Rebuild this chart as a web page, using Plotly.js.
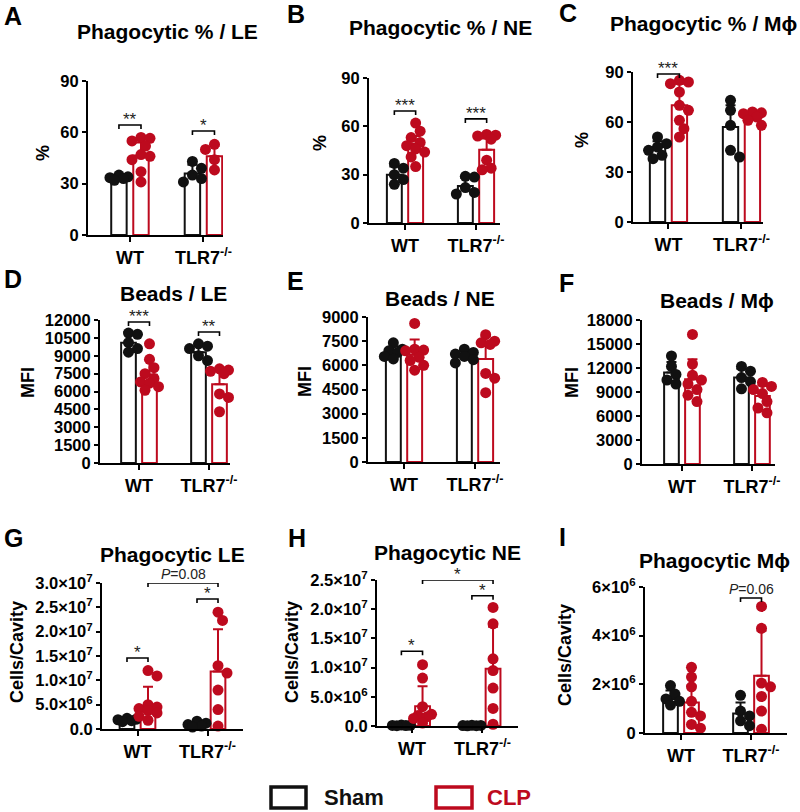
<!DOCTYPE html>
<html><head><meta charset="utf-8">
<script src="https://cdn.plot.ly/plotly-3.0.1.min.js"></script>
<style>html,body{margin:0;padding:0;background:#fff;}#chart{width:800px;height:812px;}</style>
</head><body><div id="chart"></div>
<script>
// ---------- DATA ----------
const groups = ['WT', 'TLR7<sup>-/-</sup>'];
const conditions = ['Sham', 'CLP'];
// order in each panel: [WT Sham, WT CLP, TLR7 Sham, TLR7 CLP]
const meanA = [33.5, 46.5, 36, 46];
const sdA = [1.5, 7.5, 5, 6];
const ptsA = [[35, 34, 33.5, 33, 32], [57, 56.5, 55, 52, 47, 46, 44, 37, 31], [43, 39, 35, 33, 31], [53, 52, 50, 44, 42, 38, 34]];
const meanB = [30, 49, 23, 45.5];
const sdB = [5, 5, 5, 7];
const ptsB = [[37, 34, 30, 27, 24], [62, 57, 53, 50, 48, 46, 44, 41, 35], [29, 28.5, 22, 19, 18], [55, 54.5, 54, 52, 39, 34, 33]];
const meanC = [45, 70, 57, 63.5];
const sdC = [3.5, 13, 13, 2.5];
const ptsC = [[51, 47, 45, 43, 40, 38], [85, 84, 83, 78, 70, 67, 61, 56, 51], [73, 67, 58, 43, 39], [66, 65.5, 65, 63, 61, 58]];
const meanD = [10100, 7400, 9300, 6600];
const sdD = [900, 1200, 700, 1200];
const ptsD = [[10900, 10800, 10100, 9600, 9300], [10000, 8700, 8000, 7500, 7100, 6800, 6700, 6400, 6100], [10000, 9800, 9600, 9000, 8600], [7900, 7800, 7700, 7500, 5800, 5500, 4300]];
const meanE = [6850, 6650, 6550, 6400];
const sdE = [300, 950, 350, 1400];
const ptsE = [[7400, 7000, 6900, 6800, 6550, 6400], [8600, 7000, 6950, 6900, 6500, 6300, 6000, 5700], [7000, 6800, 6700, 6550, 6350, 6150], [7900, 7500, 7400, 7300, 5500, 5200, 4300]];
const meanF = [11450, 10600, 10800, 8500];
const sdF = [1300, 2500, 1100, 1300];
const ptsF = [[13500, 12200, 11200, 10500, 10000], [16200, 12500, 11100, 10500, 10000, 9300, 8600, 7800], [12200, 11600, 10800, 10300, 9400], [10200, 9700, 9300, 8800, 7800, 7000, 6400]];
const meanG = [1.8e6, 4.8e6, 1.0e6, 1.18e7];
const sdG = [0.3e6, 3.9e6, 0.5e6, 8.7e6];
const ptsG = [[2.2e6, 2.0e6, 1.9e6, 1.7e6, 1.5e6], [1.2e7, 1.09e7, 5.0e6, 4.5e6, 4.2e6, 3.8e6, 3.3e6, 2.6e6, 1.8e6], [1.6e6, 1.2e6, 0.9e6, 0.6e6, 0.4e6], [2.4e7, 2.23e7, 1.3e7, 1.15e7, 8.0e6, 4.0e6, 0.6e6]];
const meanH = [0.1e6, 3.4e6, 0.08e6, 9.8e6];
const sdH = [0.05e6, 3.4e6, 0.04e6, 7.2e6];
const ptsH = [[0.15e6, 0.12e6, 0.1e6, 0.08e6, 0.05e6], [1.05e7, 8.2e6, 3.3e6, 2.0e6, 1.8e6, 1.6e6, 1.3e6, 0.5e6], [0.12e6, 0.1e6, 0.08e6, 0.06e6, 0.04e6], [2.03e7, 1.75e7, 1.15e7, 9.5e6, 6.5e6, 3.0e6, 0.3e6]];
const meanI = [1.4e6, 1.25e6, 0.8e6, 2.35e6];
const sdI = [0.35e6, 0.7e6, 0.45e6, 1.85e6];
const ptsI = [[1.95e6, 1.6e6, 1.4e6, 1.3e6, 1.15e6], [2.7e6, 2.3e6, 1.9e6, 1.3e6, 0.85e6, 0.7e6, 0.35e6, 0.2e6], [1.55e6, 0.9e6, 0.7e6, 0.5e6, 0.3e6], [5.2e6, 4.3e6, 2.05e6, 1.9e6, 1.5e6, 0.9e6, 0.15e6]];

const ticksPct = [0, 30, 60, 90];
const ticksD = [0, 1500, 3000, 4500, 6000, 7500, 9000, 10500, 12000];
const ticksE = [0, 1500, 3000, 4500, 6000, 7500, 9000];
const ticksF = [0, 3000, 6000, 9000, 12000, 15000, 18000];
const ticksG = [0, 5e6, 1e7, 1.5e7, 2e7, 2.5e7, 3e7];
const tickTextG = ['0.0', '5.0×10<sup>6</sup>', '1.0×10<sup>7</sup>', '1.5×10<sup>7</sup>', '2.0×10<sup>7</sup>', '2.5×10<sup>7</sup>', '3.0×10<sup>7</sup>'];
const ticksH = [0, 5e6, 1e7, 1.5e7, 2e7, 2.5e7];
const tickTextH = ['0.0', '5.0×10<sup>6</sup>', '1.0×10<sup>7</sup>', '1.5×10<sup>7</sup>', '2.0×10<sup>7</sup>', '2.5×10<sup>7</sup>'];
const ticksI = [0, 2e6, 4e6, 6e6];
const tickTextI = ['0', '2×10<sup>6</sup>', '4×10<sup>6</sup>', '6×10<sup>6</sup>'];

const titles = ['Phagocytic % / LE', 'Phagocytic % / NE', 'Phagocytic % / Mϕ', 'Beads / LE', 'Beads / NE', 'Beads / Mϕ', 'Phagocytic LE', 'Phagocytic NE', 'Phagocytic Mϕ'];
const letters = ['A', 'B', 'C', 'D', 'E', 'F', 'G', 'H', 'I'];
const yTitles = ['%', '%', '%', 'MFI', 'MFI', 'MFI', 'Cells/Cavity', 'Cells/Cavity', 'Cells/Cavity'];
// significance: [fromBar, toBar, bracket level (data units), label]
const sigA = [[0, 1, 64.3, '**'], [2, 3, 60.8, '*']];
const sigB = [[0, 1, 69.5, '***'], [2, 3, 64.6, '***']];
const sigC = [[0, 1, 88.8, '***']];
const sigD = [[0, 1, 11830, '***'], [2, 3, 10990, '**']];
const sigG = [[0, 1, 1.46e7, '*'], [2, 3, 2.67e7, '*'], [1, 3, 3.0e7, '<i>P</i>=0.08']];
const sigH = [[0, 1, 1.28e7, '*'], [2, 3, 2.23e7, '*'], [1, 3, 2.5e7, '*']];
const sigI = [[2, 3, 5.55e6, '<i>P</i>=0.06']];

// ---------- GEOMETRY / STYLE ----------
const W = 800, H = 812;
const RED = '#bd0a1e', BLK = '#111111';
const FONT = 'Liberation Sans, Arial, Helvetica, sans-serif';
const geo = [
  {x0: 88, x1: 223, yt: 81, yb: 235, xr: [0.429, 2.266], tx: 167, ty: 32, lx: 13, ly: 16, atx: 43, aty: 153},
  {x0: 369, x1: 500, yt: 78, yb: 223, xr: [0.493, 2.338], tx: 440, ty: 27, lx: 296, ly: 14, atx: 320, aty: 143},
  {x0: 633, x1: 763, yt: 72, yb: 222, xr: [0.514, 2.295], tx: 703, ty: 24, lx: 568, ly: 13, atx: 582, aty: 140},
  {x0: 100, x1: 230, yt: 320, yb: 463, xr: [0.443, 2.3], tx: 173, ty: 294, lx: 13, ly: 279, atx: 28, aty: 383},
  {x0: 368, x1: 500, yt: 317, yb: 462, xr: [0.493, 2.352], tx: 440, ty: 298, lx: 295, ly: 281, atx: 305, aty: 382},
  {x0: 642, x1: 775, yt: 320, yb: 464, xr: [0.429, 2.329], tx: 717, ty: 300, lx: 566, ly: 283, atx: 572, aty: 383},
  {x0: 102, x1: 243, yt: 583, yb: 729, xr: [0.493, 2.507], tx: 172, ty: 554, lx: 13, ly: 538, atx: 17, aty: 652},
  {x0: 377, x1: 518, yt: 580, yb: 726, xr: [0.504, 2.504], tx: 447, ty: 552, lx: 297, ly: 538, atx: 292, aty: 652},
  {x0: 645, x1: 787, yt: 587, yb: 733, xr: [0.486, 2.514], tx: 714, ty: 560, lx: 562, ly: 537, atx: 565, aty: 655}
];
const panelData = [
  {mean: meanA, sd: sdA, pts: ptsA, tv: ticksPct, tt: null, sig: sigA},
  {mean: meanB, sd: sdB, pts: ptsB, tv: ticksPct, tt: null, sig: sigB},
  {mean: meanC, sd: sdC, pts: ptsC, tv: ticksPct, tt: null, sig: sigC},
  {mean: meanD, sd: sdD, pts: ptsD, tv: ticksD, tt: null, sig: sigD},
  {mean: meanE, sd: sdE, pts: ptsE, tv: ticksE, tt: null, sig: []},
  {mean: meanF, sd: sdF, pts: ptsF, tv: ticksF, tt: null, sig: []},
  {mean: meanG, sd: sdG, pts: ptsG, tv: ticksG, tt: tickTextG, sig: sigG},
  {mean: meanH, sd: sdH, pts: ptsH, tv: ticksH, tt: tickTextH, sig: sigH},
  {mean: meanI, sd: sdI, pts: ptsI, tv: ticksI, tt: tickTextI, sig: sigI}
];
const OFF = 0.15, BW = 0.21;
const barX = [1 - OFF, 1 + OFF, 2 - OFF, 2 + OFF];

function swarm(vals, cx, pxX, pxY) {
  const order = vals.map((v, i) => i).sort((a, b) => vals[b] - vals[a]);
  const placed = [], xs = new Array(vals.length);
  const cands = [0, 4.5, -4.5, 9, -9];
  const minD = 9;
  for (const i of order) {
    const vy = vals[i] * pxY;
    let best = 0, bestD = -1;
    for (const dx of cands) {
      let d = Infinity;
      for (const p of placed) d = Math.min(d, Math.hypot(p.dx - dx, p.vy - vy));
      if (d >= minD) { best = dx; bestD = d; break; }
      if (d > bestD) { bestD = d; best = dx; }
    }
    placed.push({dx: best, vy});
    xs[i] = cx + best / pxX;
  }
  return xs;
}

const traces = [], annotations = [], shapes = [];
const layout = {
  width: W, height: H, margin: {l: 0, r: 0, t: 0, b: 0},
  paper_bgcolor: '#fff', plot_bgcolor: 'rgba(0,0,0,0)', showlegend: false,
  annotations, shapes
};
const tickFont = {family: FONT, size: 16.5, color: '#000', weight: 'bold'};

geo.forEach((g, k) => {
  const d = panelData[k];
  const n = k + 1;
  const xa = n === 1 ? 'x' : 'x' + n, ya = n === 1 ? 'y' : 'y' + n;
  const ymax = d.tv[d.tv.length - 1];
  layout['xaxis' + (n === 1 ? '' : n)] = {
    domain: [g.x0 / W, g.x1 / W], range: g.xr, anchor: ya,
    showline: true, linewidth: 2, linecolor: '#000', ticks: 'outside', ticklen: 5, tickwidth: 2, tickcolor: '#000',
    tickvals: [1, 2], ticktext: groups, tickfont: {family: FONT, size: 18, color: '#000', weight: 'bold'},
    showgrid: false, zeroline: false, fixedrange: true
  };
  layout['yaxis' + (n === 1 ? '' : n)] = {
    domain: [1 - g.yb / H, 1 - g.yt / H], range: [0, ymax], anchor: xa,
    showline: true, linewidth: 2, linecolor: '#000', ticks: 'outside', ticklen: 4, tickwidth: 2, tickcolor: '#000',
    tickvals: d.tv, ticktext: d.tt || d.tv.map(String), tickfont: tickFont,
    showgrid: false, zeroline: false, fixedrange: true
  };
  const pxX = (g.x1 - g.x0) / (g.xr[1] - g.xr[0]);
  const pxY = (g.yb - g.yt) / ymax;
  // bars
  [0, 1].forEach(c => {
    const col = c === 0 ? BLK : RED;
    const idx = [c, c + 2];
    traces.push({
      type: 'bar', xaxis: xa, yaxis: ya, x: idx.map(i => barX[i]), y: idx.map(i => d.mean[i]), width: BW,
      name: conditions[c], cliponaxis: false,
      marker: {color: 'rgba(255,255,255,0)', line: {color: col, width: 2}},
      error_y: {type: 'data', symmetric: false, array: idx.map(i => d.sd[i]), arrayminus: [0, 0], color: col, thickness: 2, width: 5}
    });
  });
  // points
  [0, 1, 2, 3].forEach(i => {
    const col = i % 2 === 0 ? BLK : RED;
    traces.push({
      type: 'scatter', mode: 'markers', xaxis: xa, yaxis: ya, cliponaxis: false,
      x: swarm(d.pts[i], barX[i], pxX, pxY), y: d.pts[i],
      marker: {size: 11, color: col, line: {width: 0}}
    });
  });
  // significance brackets
  const tick = 4 / pxY;
  d.sig.forEach(s => {
    const xA = barX[s[0]], xB = barX[s[1]], yl = s[2];
    traces.push({
      type: 'scatter', mode: 'lines', xaxis: xa, yaxis: ya, cliponaxis: false,
      x: [xA, xA, xB, xB], y: [yl - tick, yl, yl, yl - tick],
      line: {color: '#000', width: 1.6}, hoverinfo: 'skip'
    });
    const isP = s[3].indexOf('P') >= 0;
    annotations.push({
      xref: xa, yref: ya, x: (xA + xB) / 2, y: yl, text: s[3], showarrow: false,
      xanchor: 'center', yanchor: 'bottom', yshift: isP ? -1 : -6,
      font: {family: FONT, size: isP ? 14 : 17, color: '#222'}
    });
  });
  // title, letter, y-axis title
  annotations.push({xref: 'paper', yref: 'paper', x: g.tx / W, y: 1 - g.ty / H, text: titles[k], showarrow: false,
    xanchor: 'center', yanchor: 'middle', font: {family: FONT, size: 21, color: '#000', weight: 'bold'}});
  annotations.push({xref: 'paper', yref: 'paper', x: g.lx / W, y: 1 - g.ly / H, text: letters[k], showarrow: false,
    xanchor: 'center', yanchor: 'middle', font: {family: FONT, size: 25, color: '#000', weight: 'bold'}});
  annotations.push({xref: 'paper', yref: 'paper', x: g.atx / W, y: 1 - g.aty / H, text: yTitles[k], showarrow: false,
    textangle: -90, xanchor: 'center', yanchor: 'middle', font: {family: FONT, size: 18, color: '#000', weight: 'bold'}});
});

// legend
const legendItems = [{x0: 271, x1: 306, tx: 322, col: BLK}, {x0: 436, x1: 472, tx: 485, col: RED}];
legendItems.forEach((it, c) => {
  shapes.push({type: 'rect', xref: 'paper', yref: 'paper', x0: it.x0 / W, x1: it.x1 / W, y0: 1 - 808 / H, y1: 1 - 787 / H,
    line: {color: it.col, width: 3.5}, fillcolor: 'rgba(0,0,0,0)'});
  annotations.push({xref: 'paper', yref: 'paper', x: it.tx / W, y: 1 - 797 / H, text: conditions[c], showarrow: false,
    xanchor: 'left', yanchor: 'middle', font: {family: FONT, size: 22, color: it.col, weight: 'bold'}});
});

Plotly.newPlot('chart', traces, layout, {staticPlot: true, displayModeBar: false});
</script></body></html>
